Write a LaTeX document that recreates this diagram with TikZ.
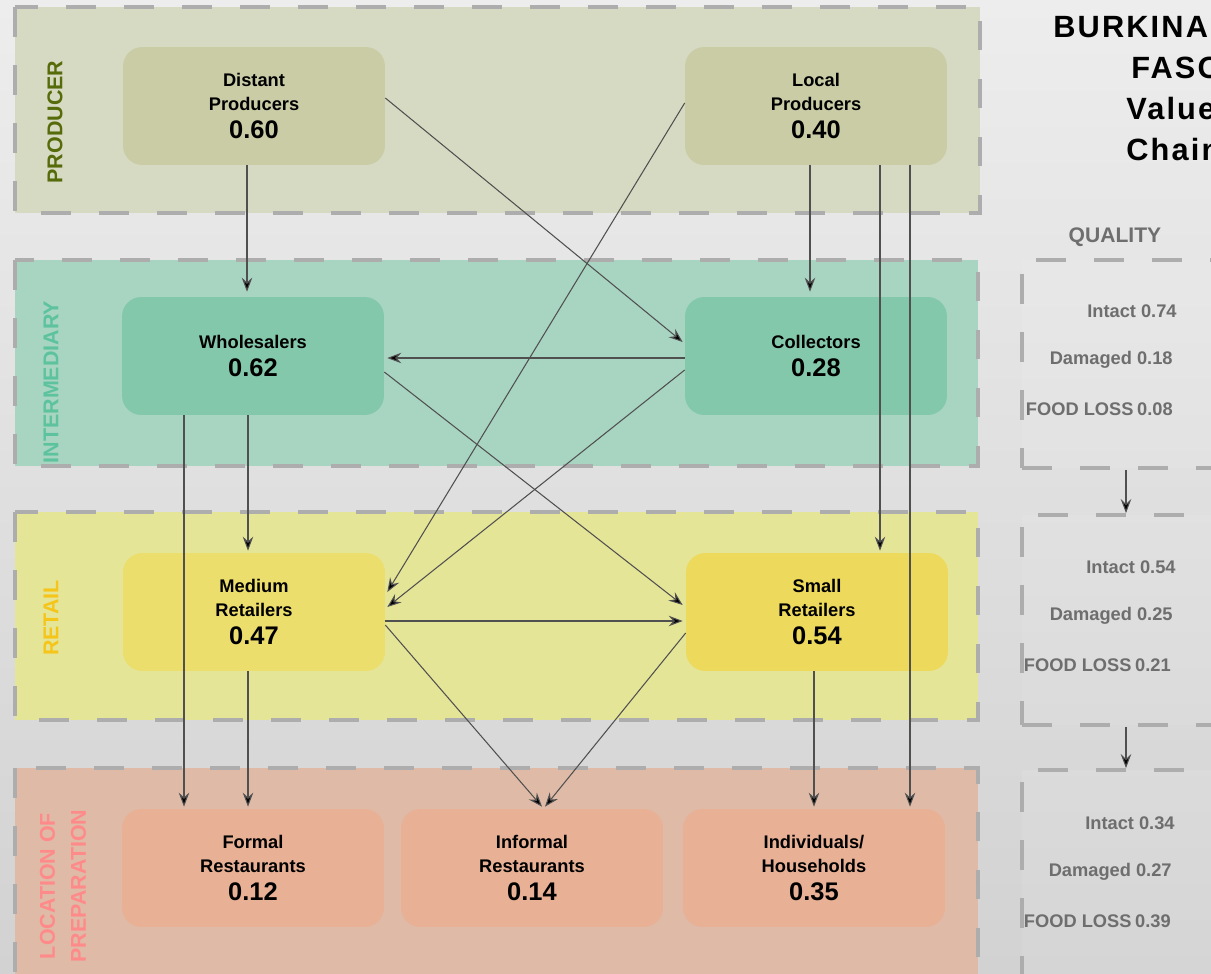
\documentclass[tikz,border=0pt]{standalone}
\usepackage{fontspec}
\setmainfont{Liberation Sans}
\newfontfamily\titlefont[LetterSpace=7]{Liberation Sans}
\usetikzlibrary{arrows.meta,calc}
\definecolor{bgA}{HTML}{EDEDED}
\definecolor{bgB}{HTML}{D2D2D2}
\definecolor{dashc}{HTML}{ADADAD}
\definecolor{laneP}{HTML}{D7DAC2}
\definecolor{laneI}{HTML}{A8D4C2}
\definecolor{laneR}{HTML}{E5E598}
\definecolor{laneL}{HTML}{DFBAA7}
\definecolor{nodeP}{HTML}{CACCA6}
\definecolor{nodeI}{HTML}{84C8AC}
\definecolor{nodeM}{HTML}{ECDE6C}
\definecolor{nodeS}{HTML}{EDD95B}
\definecolor{nodeL}{HTML}{E8B196}
\definecolor{labP}{HTML}{566B0A}
\definecolor{labI}{HTML}{5CC39E}
\definecolor{labR}{HTML}{F5C51A}
\definecolor{labL}{HTML}{FF8A8A}
\definecolor{qtext}{HTML}{6E6E6E}
\definecolor{arrc}{HTML}{505050}
\newcommand{\numf}[1]{{\fontsize{14.5}{16}\selectfont #1}}
\begin{document}
\begin{tikzpicture}[x=0.02cm,y=-0.02cm,
  lane/.style={draw=dashc, line width=2.2pt, dash pattern=on 17pt off 16pt},
  qbox/.style={draw=dashc, line width=2.2pt, dash pattern=on 17pt off 16pt, fill=white, fill opacity=0.08, minimum width=4.16cm, minimum height=4.16cm, inner sep=0pt},
  box/.style={rounded corners=11pt, minimum width=5.24cm, minimum height=2.36cm, align=center, inner sep=0pt,
     font=\fontsize{10.4}{13.6}\selectfont\bfseries},
  lanelab/.style={rotate=90, font=\fontsize{12.2}{17.6}\selectfont\bfseries, align=center},
  qlab/.style={anchor=east, inner sep=0pt, text=qtext, font=\fontsize{10.4}{12}\selectfont\bfseries},
  title/.style={anchor=west, inner sep=0pt, font=\fontsize{17.5}{20}\selectfont\titlefont\bfseries},
  arr/.style={draw=arrc, line width=0.6pt, -{Stealth[length=8pt,width=6pt,inset=2.8pt,fill=black]}}]
\useasboundingbox (0,0) rectangle (1211,974);
\clip (0,0) rectangle (1211,974);
\shade[top color=bgA, bottom color=bgB] (0,0) rectangle (1211,974);

% lanes
\fill[laneP] (15,7) rectangle (980,213);
\draw[lane] (15,7) rectangle (980,213);
\fill[laneI] (15,260) rectangle (978,466);
\draw[lane] (15,260) rectangle (978,466);
\fill[laneR] (15,512) rectangle (978,720);
\draw[lane] (15,512) rectangle (978,720);
\fill[laneL] (15,768) rectangle (978,990);
\draw[lane] (15,768) rectangle (978,990);

\node[lanelab, text=labP] (lP) at (55,122) {PRODUCER};
\node[lanelab, text=labI] (lI) at (51,382) {INTERMEDIARY};
\node[lanelab, text=labR] (lR) at (51,618) {RETAIL};
\node[lanelab, text=labL] (lL) at (63,886) {LOCATION OF\\PREPARATION};

% value chain nodes
\node[box, fill=nodeP] (dp) at (254,106) {Distant\\Producers\\[2.8pt]\numf{0.60}};
\node[box, fill=nodeP] (lp) at (816,106) {Local\\Producers\\[2.8pt]\numf{0.40}};
\node[box, fill=nodeI] (wh) at (253,356) {Wholesalers\\[2.8pt]\numf{0.62}};
\node[box, fill=nodeI] (co) at (816,356) {Collectors\\[2.8pt]\numf{0.28}};
\node[box, fill=nodeM] (mr) at (254,612) {Medium\\Retailers\\[2.8pt]\numf{0.47}};
\node[box, fill=nodeS] (sr) at (817,612) {Small\\Retailers\\[2.8pt]\numf{0.54}};
\node[box, fill=nodeL] (fr) at (253,868) {Formal\\Restaurants\\[2.8pt]\numf{0.12}};
\node[box, fill=nodeL] (ir) at (532,868) {Informal\\Restaurants\\[2.8pt]\numf{0.14}};
\node[box, fill=nodeL] (ih) at (814,868) {Individuals/\\Households\\[2.8pt]\numf{0.35}};

% connectors
\draw[arr] ($(dp.south)+(-7,0)$) -- ($(wh.north)+(-6,-5)$);
\draw[arr] ($(dp.east)+(0,-8)$) -- ($(co.west)+(-2,-14)$);
\draw[arr] ($(lp.west)+(0,-3)$) -- ($(mr.east)+(2,-20)$);
\draw[arr] ($(lp.south)+(-6,0)$) -- ($(co.north)+(-6,-5)$);
\draw[arr] ($(lp.south)+(64,0)$) -- ($(sr.north)+(63,-2)$);
\draw[arr] ($(lp.south)+(94,0)$) -- ($(ih.north)+(96,-2)$);
\draw[arr] ($(co.west)+(0,2)$) -- ($(wh.east)+(3,2)$);
\draw[arr] ($(co.west)+(0,14)$) -- ($(mr.east)+(2,-5)$);
\draw[arr] ($(wh.east)+(0,16)$) -- ($(sr.west)+(-3,-7)$);
\draw[arr] ($(wh.south)+(-69,0)$) -- ($(fr.north)+(-69,-2)$);
\draw[arr] ($(wh.south)+(-5,0)$) -- ($(mr.north)+(-6,-2)$);
\draw[arr] ($(mr.east)+(0,9)$) -- ($(sr.west)+(-3,9)$);
\draw[arr] ($(mr.east)+(0,13)$) -- ($(ir.north)+(10,-2)$);
\draw[arr] ($(mr.south)+(-6,0)$) -- ($(fr.north)+(-5,-2)$);
\draw[arr] ($(sr.west)+(0,21)$) -- ($(ir.north)+(13,-2)$);
\draw[arr] ($(sr.south)+(-3,0)$) -- ($(ih.north)+(0,-2)$);

% title
\node[title] (t1) at (1053,27) {BURKINA};
\node[title] (t2) at (1131,68) {FASO};
\node[title] (t3) at (1126,109) {Value};
\node[title] (t4) at (1126,150) {Chain};

% quality
\node[text=qtext, font=\fontsize{12}{14}\selectfont\bfseries] (ql) at (1115,237) {QUALITY};
\node[qbox] (q1) at (1126,364) {};
\node[qbox, minimum height=4.2cm] (q2) at (1126,620) {};
\node[qbox, minimum height=4.2cm] (q3) at (1126,875) {};
\draw[arr] (q1.south) -- (q2.north);
\draw[arr] (q2.south) -- (q3.north);

\node[qlab] (a1) at (1177,311) {Intact 0.74};
\node[qlab] (b1) at (1173,360) {Damaged 0.18};
\node[qlab] (c1) at (1173,409) {FOOD LOSS\kern2pt 0.08};
\node[qlab] (a2) at (1176,567) {Intact 0.54};
\node[qlab] (b2) at (1173,616) {Damaged 0.25};
\node[qlab] (c2) at (1171,665) {FOOD LOSS\kern2pt 0.21};
\node[qlab] (a3) at (1175,823) {Intact 0.34};
\node[qlab] (b3) at (1172,872) {Damaged 0.27};
\node[qlab] (c3) at (1171,921) {FOOD LOSS\kern2pt 0.39};
\end{tikzpicture}
\end{document}
